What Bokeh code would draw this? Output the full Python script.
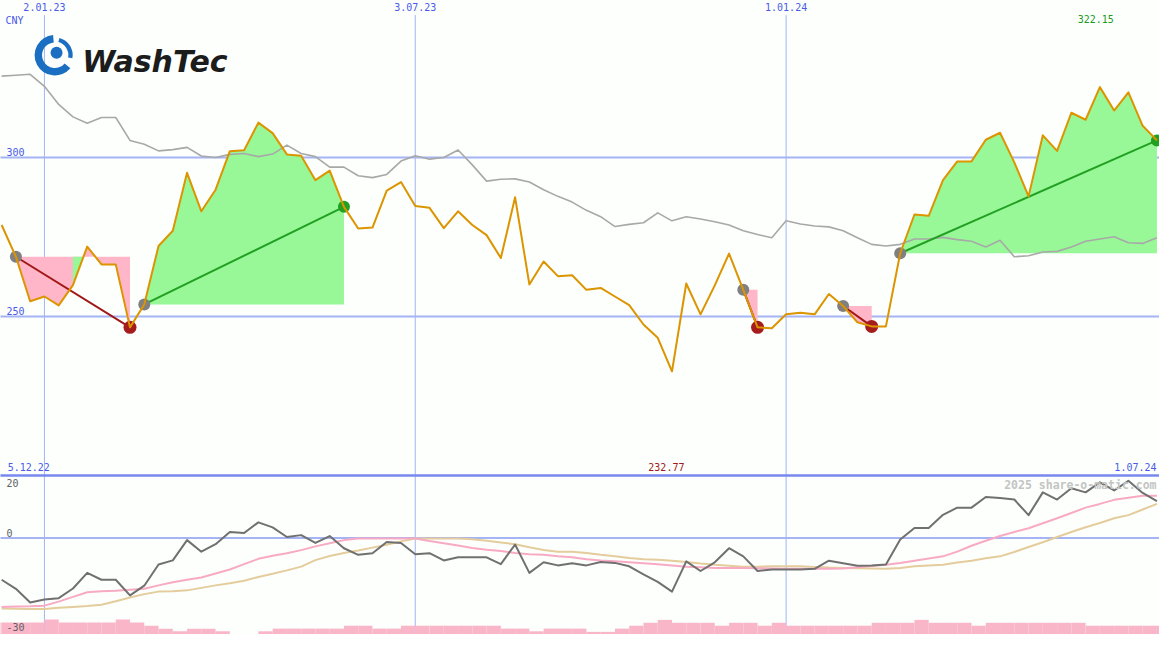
from bokeh.plotting import figure
from bokeh.models import Range1d, Label
from bokeh.embed import file_html
from bokeh.resources import INLINE

# ---------------- data (weekly, week 0 = 2.01.23) ----------------
weeks = list(range(-3, 79))

price = [278.8, 268.8, 254.8, 256.3, 253.5, 259.9, 272.0, 266.4, 266.4, 246.6,
         253.8, 272.2, 277.0, 295.2, 283.1, 289.9, 302.0, 302.3, 311.0, 307.7,
         301.0, 300.6, 292.9, 295.9, 284.5, 277.7, 278.0, 289.6, 292.3, 284.8,
         284.2, 277.8, 283.1, 278.8, 275.6, 268.4, 287.5, 260.1, 267.3, 262.7,
         263.0, 258.4, 259.0, 256.3, 253.6, 247.5, 243.3, 232.77, 260.4, 250.7,
         259.8, 269.8, 258.4, 246.6, 246.3, 250.7, 251.2, 250.7, 257.1, 253.3,
         248.2, 246.9, 246.9, 269.9, 282.1, 281.7, 292.9, 298.8, 298.8, 305.6,
         307.8, 298.5, 287.8, 307.0, 302.1, 314.1, 311.9, 322.15, 314.8, 320.5,
         310.0, 305.4]

index_line = [325.6, 325.9, 326.2, 322.4, 316.7, 312.8, 310.8, 312.6, 312.6, 305.4,
              304.2, 302.1, 302.5, 303.2, 300.5, 300.0, 301.0, 301.3, 300.3, 301.1,
              303.9, 301.3, 300.3, 297.0, 297.0, 294.3, 293.7, 294.7, 298.9, 300.6,
              299.5, 300.0, 302.4, 297.7, 292.6, 293.2, 293.3, 292.3, 289.9, 287.8,
              286.0, 283.4, 281.4, 278.3, 279.0, 279.5, 282.6, 280.1, 281.4, 280.7,
              279.8, 278.8, 277.0, 275.8, 274.8, 280.1, 279.1, 278.5, 278.2, 277.0,
              274.8, 272.7, 272.2, 272.7, 274.4, 274.4, 274.9, 274.2, 273.7, 271.9,
              274.0, 268.8, 269.1, 270.3, 270.5, 271.9, 273.7, 274.4, 275.1, 273.2,
              273.0, 274.8]

osc = [-13.4, -16.3, -20.7, -19.7, -19.3, -16.2, -11.2, -13.4, -13.4, -18.4,
       -15.3, -8.5, -7.2, -0.7, -4.4, -2.0, 1.9, 1.6, 5.0, 3.4,
       0.3, 0.9, -1.6, 0.6, -3.3, -5.4, -4.9, -1.3, -1.6, -5.2,
       -4.9, -7.2, -6.2, -6.2, -6.2, -8.4, -2.1, -11.2, -7.8, -8.8,
       -8.1, -8.8, -7.7, -8.0, -9.1, -11.7, -14.1, -17.2, -7.5, -10.6,
       -7.8, -3.3, -5.9, -10.6, -10.1, -10.1, -10.1, -9.9, -7.3, -8.1,
       -8.9, -8.8, -8.5, -0.5, 3.2, 3.2, 7.4, 9.7, 9.7, 13.1,
       12.8, 12.3, 7.3, 14.6, 12.3, 15.9, 14.6, 17.8, 15.2, 18.3,
       14.4, 11.8]

osc_fast = [-22.1, -22.0, -21.9, -21.7, -20.4, -18.9, -17.4, -17.1, -16.9, -16.6,
            -16.3, -15.2, -14.2, -13.4, -12.7, -11.4, -10.1, -8.4, -6.7, -5.7,
            -4.9, -3.9, -2.7, -1.7, -0.7, -0.2, -0.2, -0.2, -0.2, -0.2,
            -1.0, -1.7, -2.4, -3.2, -3.8, -4.2, -4.8, -5.2, -5.4, -5.9,
            -6.2, -6.8, -7.2, -7.5, -7.8, -8.1, -8.4, -8.8, -9.2, -9.4,
            -9.6, -9.6, -9.6, -9.7, -9.8, -9.9, -9.9, -9.9, -9.9, -9.8,
            -9.4, -9.0, -8.6, -8.0, -7.3, -6.6, -5.9, -4.4, -2.5, -0.9,
            0.6, 1.9, 3.1, 4.7, 6.3, 8.0, 9.7, 10.9, 12.2, 12.9,
            13.5, 13.5]

osc_slow = [-22.6, -22.7, -22.8, -22.8, -22.4, -22.1, -21.8, -21.4, -20.3, -19.1,
            -18.0, -17.2, -17.1, -16.8, -16.0, -15.2, -14.5, -13.7, -12.5, -11.5,
            -10.4, -9.2, -7.1, -5.8, -4.8, -4.0, -3.1, -2.2, -1.1, -0.2,
            -0.2, -0.2, -0.2, -0.4, -0.9, -1.5, -2.0, -3.0, -3.9, -4.4,
            -4.4, -4.8, -5.4, -5.9, -6.4, -6.8, -7.0, -7.3, -7.7, -8.2,
            -8.6, -8.9, -9.2, -9.2, -9.1, -9.1, -9.1, -9.3, -9.5, -9.6,
            -9.7, -9.8, -9.9, -9.6, -9.1, -8.8, -8.6, -7.9, -7.3, -6.5,
            -5.9, -4.5, -2.9, -1.4, 0.3, 1.9, 3.4, 4.8, 6.3, 7.3,
            9.1, 10.9]

vol_weeks = list(range(-4, 79))
volume = [12.3, 12.3, 12.3, 12.3, 15.3, 12.3, 12.3, 12.3, 12.3, 15.3,
          12.3, 9.0, 6.0, 3.3, 6.0, 6.0, 3.3, 0.0, 0.0, 3.3,
          6.0, 6.0, 6.0, 6.0, 6.0, 9.0, 9.0, 6.0, 6.0, 9.0,
          9.0, 9.0, 9.0, 9.0, 9.0, 9.0, 6.0, 6.0, 3.3, 6.0,
          6.0, 6.0, 2.7, 2.7, 6.0, 9.0, 12.0, 15.0, 12.0, 12.0,
          12.0, 9.0, 12.0, 12.0, 9.0, 12.0, 9.0, 9.0, 9.0, 9.0,
          9.0, 9.0, 12.0, 12.0, 12.0, 15.0, 12.0, 12.0, 12.0, 9.0,
          12.0, 12.0, 12.0, 12.0, 12.0, 12.0, 12.0, 9.0, 9.0, 9.0,
          9.0, 9.0, 9.0]

grid_weeks = [0, 26, 52]
grid_labels = ["2.01.23", "3.07.23", "1.01.24"]
price_levels = [300, 250]
osc_levels = [0]
drops = [(-2, 6), (49, 50), (56, 58)]
rises = [(7, 21), (60, 78)]

# ---------------- figure ----------------
W, H = 1159, 634
BG = "#fcfffc"
GRID = "#a4b4f4"
BLUE_TXT = "#4a5ae8"
MONO = "DejaVu Sans Mono"

p = figure(width=W, height=H, x_range=Range1d(-3.08, 78.18), y_range=Range1d(150.0, 349.4),
           output_backend="svg", toolbar_location=None, min_border=0,
           x_axis_location=None, y_axis_location=None,
           background_fill_color=BG, border_fill_color=BG, outline_line_color=None)
p.grid.visible = False
p.extra_y_ranges = {"osc": Range1d(-30.94, 172.19), "vol": Range1d(0, 650)}


def P(k):
    return price[weeks.index(k)]


def span(a, b):
    xs = [k for k in weeks if a <= k <= b]
    return xs, [P(k) for k in xs]


# grid lines
p.segment(x0=grid_weeks, y0=[344.8] * 3, x1=grid_weeks, y1=[140] * 3,
          line_color=GRID, line_width=1)
p.segment(x0=[-5] * len(price_levels), y0=price_levels, x1=[80] * len(price_levels),
          y1=price_levels, line_color=GRID, line_width=2)
p.segment(x0=[-5], y0=osc_levels, x1=[80], y1=osc_levels, line_color=GRID,
          line_width=2, y_range_name="osc")
p.segment(x0=[-5], y0=[20], x1=[80], y1=[20], line_color="#7888ee",
          line_width=2.5, y_range_name="osc")

# volume bars
p.quad(left=vol_weeks, right=[k + 1 for k in vol_weeks], bottom=[0] * len(volume),
       top=volume, fill_color="#f9b6c9", line_color=None, y_range_name="vol")

# drop / rise areas
PINK = "#ffb6c8"
GREEN = "#98f898"
for a, b in drops:
    xs, ys = span(a, b)
    lvl = P(a)
    p.varea(x=xs, y1=ys, y2=[lvl] * len(xs), fill_color=PINK)
for a, b in rises:
    xs, ys = span(a, b)
    lvl = P(a)
    p.varea(x=xs, y1=ys, y2=[lvl] * len(xs), fill_color=GREEN)
# small recovery inside first drop
lvl0 = P(-2)
t = (lvl0 - P(2)) / (P(3) - P(2))
p.patch(x=[2, 2, 2 + t], y=[lvl0, P(2), lvl0], fill_color=GREEN, line_color=None)

# comparison line
p.line(weeks, index_line, line_color="#a8a8a8", line_width=1.6, line_join="round")

# trend lines
for a, b in drops:
    p.line([a, b], [P(a), P(b)], line_color="#a01818", line_width=2)
for a, b in rises:
    p.line([a, b], [P(a), P(b)], line_color="#22a022", line_width=2)

# markers
starts = [a for a, b in drops] + [a for a, b in rises]
p.scatter([k for k in starts], [P(k) for k in starts], size=12, fill_color="#808080",
          line_color=None)
p.scatter([b for a, b in drops], [P(b) for a, b in drops], size=13, fill_color="#a51c1c",
          line_color=None)
p.scatter([b for a, b in rises], [P(b) for a, b in rises], size=12, fill_color="#22a022",
          line_color=None)

# price line
p.line(weeks, price, line_color="#dc9400", line_width=2, line_join="round")

# lower panel lines
p.line(weeks, osc_slow, line_color="#e4cc9c", line_width=2, y_range_name="osc")
p.line(weeks, osc_fast, line_color="#f8aac4", line_width=2, y_range_name="osc")
p.line(weeks, osc, line_color="#707070", line_width=2, line_join="round", y_range_name="osc")

# ---------------- texts ----------------
def lab(x, y, text, color=BLUE_TXT, size="10px", align="left", base="top",
        rng="default", font=MONO, style="normal"):
    p.add_layout(Label(x=x, y=y, text=text, text_color=color, text_font_size=size,
                       text_align=align, text_baseline=base, y_range_name=rng,
                       text_font=font, text_font_style=style))


for k, t_ in zip(grid_weeks, grid_labels):
    lab(k, 348.6, t_, align="center")
lab(-2.73, 344.8, "CNY")
lab(-2.66, 300.45, "300", base="bottom")
lab(-2.66, 250.45, "250", base="bottom")
lab(72.44, 344.8, "322.15", color="#1f9a1f")

lab(-2.58, 24.1, "5.12.22", rng="osc")
lab(42.34, 24.1, "232.77", color="#a01818", rng="osc")
lab(77.97, 24.1, "1.07.24", align="right", rng="osc")
lab(-2.66, 18.8, "20", color="#606060", rng="osc")
lab(-2.66, 0.3, "0", color="#606060", base="bottom", rng="osc")
lab(-2.66, -29.7, "-30", color="#606060", base="bottom", rng="osc")
lab(77.97, 19.1, "2025 share-o-matic.com", color="#c4c4c4", size="11.5px",
    align="right", rng="osc", style="bold")

# logo
p.annular_wedge(x=[0.73], y=[332.2], inner_radius=0.9, outer_radius=1.42,
                start_angle=95, end_angle=320, start_angle_units="deg",
                end_angle_units="deg", fill_color="#1b6fc2", line_color=None)
p.annular_wedge(x=[0.73], y=[332.2], inner_radius=0.95, outer_radius=1.25,
                start_angle=-10, end_angle=75, start_angle_units="deg",
                end_angle_units="deg", fill_color="#1b6fc2", line_color=None)
p.circle(x=[0.85], y=[333.0], radius=0.42, fill_color="#1b6fc2", line_color=None)
lab(2.66, 330.1, "WashTec", color="#1c1c1c", size="30px", base="alphabetic",
    font="DejaVu Sans", style="bold italic")

open("out.html", "w").write(file_html(p, INLINE))
